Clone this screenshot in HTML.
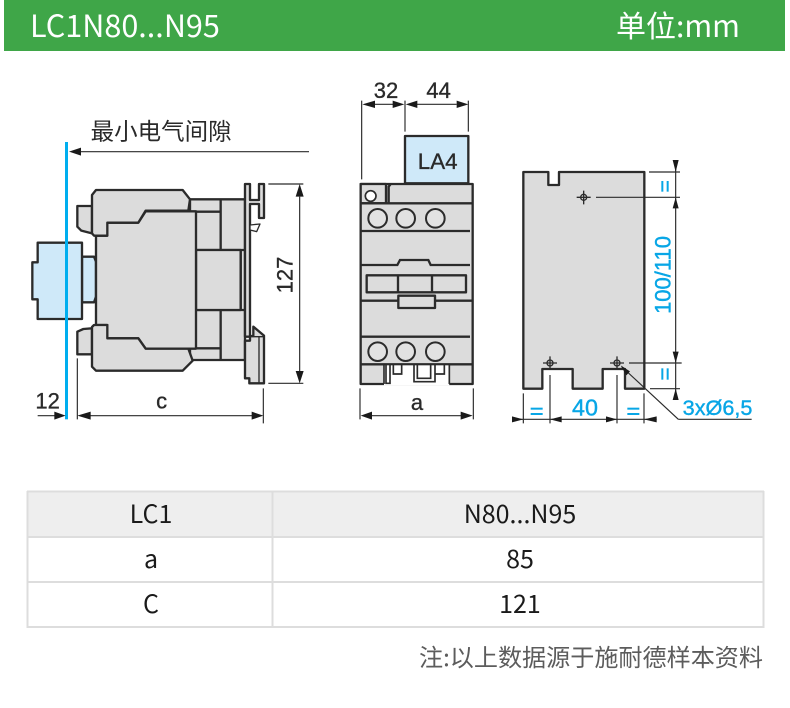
<!DOCTYPE html>
<html><head><meta charset="utf-8"><style>
html,body{margin:0;padding:0;background:#fff}
svg{display:block}
.d{font-family:"Liberation Sans",sans-serif;fill:#2a2a2a;stroke:#2a2a2a;stroke-width:1}
.c{font-family:"Noto Sans CJK SC","Liberation Sans",sans-serif}
.p{fill:#dcdcdc;stroke:#2b2b2b;stroke-width:7;stroke-linejoin:round}
.b{fill:#cfe9f9;stroke:#2b2b2b;stroke-width:7;stroke-linejoin:round}
.l{fill:none;stroke:#2b2b2b;stroke-width:7}
.t{fill:none;stroke:#2b2b2b;stroke-width:3.5}
.a{fill:#1a1a1a}
.bl{font-family:"Liberation Sans",sans-serif;fill:#08a6e6;stroke:#08a6e6;stroke-width:1.2}
</style></head><body>
<svg width="790" height="708" viewBox="0 0 790 708" xmlns="http://www.w3.org/2000/svg">
<rect x="4" y="0" width="781" height="51" fill="#3fa648"/>
<text x="30" y="37" class="c" font-size="30.600" fill="#fff">LC1N80...N95</text>
<text x="616" y="37" class="c" font-size="30" fill="#fff">单位:mm</text>

<!-- side view -->
<g transform="translate(0,70) scale(0.33333)">
<text x="272" y="208" class="c" font-size="70.500" fill="#2a2a2a">最小电气间隙</text>
<path class="t" d="M240,245H927"/><path class="a" d="M207,245L243,233V257Z"/>
<path class="p" d="M570,388H735V870H570Z"/>
<path class="l" d="M662,388V540M662,720V870M588,425H662M588,835H662M722,540V720H735M588,540H735M588,720H735"/>
<path class="p" d="M588,540H722V720H588Z"/>
<path class="p" d="M735,342H750V390H777V342H792V444H777V402H750V800H735Z"/>
<path class="p" d="M750,465L780,462L770,485L750,480Z" style="stroke-width:4;fill:#fff"/>
<path class="p" d="M760,770L792,797V940H748V925H735V812H750V798H760Z"/>
<path class="l" d="M777,800V940M750,800H790" style="stroke-width:4"/>
<path class="b" d="M246,560H282L288,575V680L282,697H246Z"/>
<path class="p" d="M232,408H276V490L244,482L232,470Z"/>
<path class="p" d="M232,785L250,777L276,775V853H232Z"/>
<path class="p" d="M288,497H322V458H415L437,424H588V836H437L415,805H322V765H288Z"/>
<path class="p" d="M276,375L288,360H548L570,388L565,422H437L415,458H322V497H282L276,490Z"/>
<path class="p" d="M282,765H322V805H415L437,836H565L578,872L548,902H288L276,890V771Z"/>
<path class="b" d="M113,518H246V747H113V688H97V577H113Z"/>
<rect x="195" y="216" width="9" height="832" fill="#00aeef"/>
<path class="t" d="M805,342H910M805,940H910M899,380V905M232,865V1048M790,955V1060M270,1037H760M113,1037H170"/>
<path class="a" d="M899,342L887,380H911ZM899,940L887,903H911ZM232,1037L272,1025V1049ZM790,1037L755,1025V1049ZM197,1037L163,1025V1049Z"/>
<text transform="translate(877,615) rotate(-90)" text-anchor="middle" class="d" font-size="66">127</text>
<text x="485" y="1016" text-anchor="middle" class="d" font-size="66">c</text>
<text x="143" y="1015" text-anchor="middle" class="d" font-size="66">12</text>
</g>

<!-- front view -->
<g transform="translate(340,70) scale(0.33333)">
<rect class="b" x="195" y="198" width="190" height="142"/>
<text x="293" y="297" text-anchor="middle" class="d" font-size="67">LA4</text>
<path class="p" d="M62,342H398V942H62Z"/>
<path class="p" d="M62,342H138V400H62Z"/>
<circle cx="92" cy="378" r="16" fill="#fff" stroke="#2b2b2b" stroke-width="5"/>
<path class="l" d="M146,400V350L152,342M62,400H398M62,483H390M62,585H172L180,570H265L272,585H390M62,692H175M285,692H398M62,800H390M62,883H398"/>
<g fill="#e2e2e2" stroke="#2b2b2b" stroke-width="6"><circle cx="113" cy="445" r="28"/><circle cx="197" cy="445" r="28"/><circle cx="286" cy="445" r="28"/><circle cx="113" cy="845" r="28"/><circle cx="197" cy="845" r="28"/><circle cx="286" cy="845" r="28"/></g>
<rect class="p" x="80" y="616" width="298" height="51"/>
<path class="l" d="M174,616V667M276,616V667"/>
<rect class="p" x="175" y="677" width="110" height="37"/>
<rect x="132" y="886" width="196" height="60" fill="#fff"/>
<path class="l" d="M132,883V942M328,883V942M62,942H132M328,942H398M138,883V940H150V883" style="stroke-width:5"/>
<path class="l" d="M160,883V912H185V883M222,883V935H285V883M232,883V925H272V883M285,912H313V883" style="stroke-width:5"/>
<path class="t" d="M65,92V328M195,92V185M385,92V185M60,955V1048M400,955V1048M100,103H160M230,103H350M95,1037H365"/>
<path class="a" d="M67,103L105,92V114ZM193,103L158,92V114ZM197,103L232,92V114ZM385,103L350,92V114ZM62,1037L96,1025V1049ZM398,1037L362,1025V1049Z"/>
<text x="138" y="84" text-anchor="middle" class="d" font-size="66">32</text>
<text x="296" y="84" text-anchor="middle" class="d" font-size="66">44</text>
<text x="231" y="1020" text-anchor="middle" class="d" font-size="66">a</text>
</g>

<!-- mounting plate -->
<g transform="translate(500,150) scale(0.33333)">
<path class="p" d="M70,66H145V105H177V66H433V716H375V657H308V716H218V657H127V716H70Z"/>
<g fill="none" stroke="#2b2b2b" stroke-width="4"><circle cx="251" cy="142" r="9"/><circle cx="150" cy="639" r="9"/><circle cx="351" cy="639" r="9"/>
<path d="M230,142H272M251,122V163M129,639H171M150,619V660M330,639H372M351,619V660"/></g>
<path class="t" d="M447,66H540M288,142H540M387,639H545M450,716H540M527,30V750M70,730V820M150,675V820M351,675V820M432,730V820M36,808H470M535,808H755M365,650L535,808"/>
<path class="a" d="M527,66L518,30H536ZM527,142L518,175H536ZM527,639L518,605H536ZM527,716L518,750H536ZM70,808L36,799V817ZM150,808L185,799V817ZM351,808L318,799V817ZM432,808L470,799V817ZM362,646L390,664L379,676Z"/>
<g fill="#08a6e6"><rect x="484" y="93" width="6" height="32"/><rect x="500" y="93" width="6" height="32"/><rect x="484" y="655" width="6" height="34"/><rect x="500" y="655" width="6" height="34"/>
<rect x="92" y="773" width="36" height="6"/><rect x="92" y="789" width="36" height="6"/><rect x="382" y="773" width="36" height="6"/><rect x="382" y="789" width="36" height="6"/></g>
<text transform="translate(512,375) rotate(-90)" text-anchor="middle" class="bl" font-size="66">100/110</text>
<text x="255" y="796" text-anchor="middle" class="bl" font-size="70">40</text>
<text x="548" y="795" class="bl" font-size="65">3xØ6,5</text>
</g>

<!-- table -->
<rect x="27" y="492" width="737" height="45" fill="#eeeeee"/>
<path d="M27,491.500H764M27,537H764M27,582H764M27,627H764M27.500,491V628M272.500,491V628M763.500,491V628" fill="none" stroke="#ddd" stroke-width="2"/>
<g class="c" font-size="25" fill="#1a1a1a" text-anchor="middle">
<text x="151" y="523">LC1</text><text x="520" y="523">N80...N95</text>
<text x="151" y="568">a</text><text x="520" y="568">85</text>
<text x="151" y="613">C</text><text x="520" y="613">121</text>
</g>
<text x="763" y="666" text-anchor="end" class="c" font-size="24.100" fill="#5c5c5c">注:以上数据源于施耐德样本资料</text>
</svg>
</body></html>
